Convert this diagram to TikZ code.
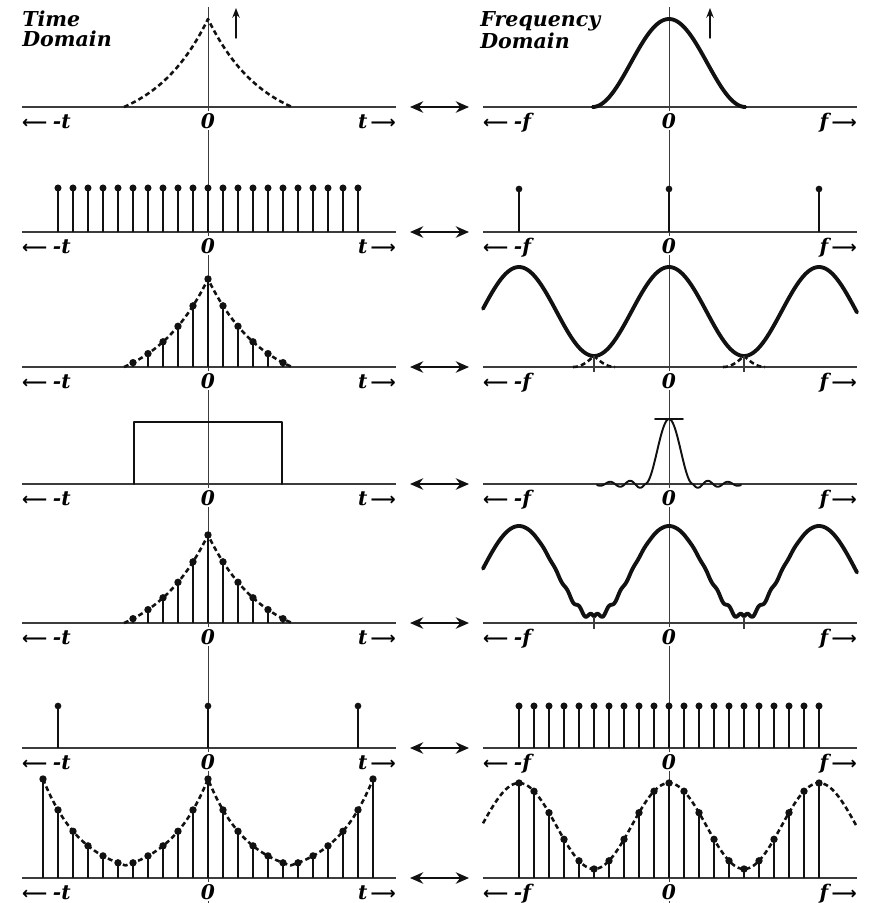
\documentclass[tikz,border=0pt]{standalone}
\usepackage{fontspec}
\setmainfont{DejaVu Serif}
\newfontfamily\arrowfont{DejaVu Sans}
\usepackage{tikz}
\usetikzlibrary{arrows.meta}
\definecolor{ink}{HTML}{111111}
\definecolor{axisgray}{HTML}{3C3C3C}
\newcommand{\larr}{{\arrowfont\upshape\bfseries\fontsize{10}{12}\selectfont ⟵}}
\newcommand{\rarr}{{\arrowfont\upshape\bfseries\fontsize{10}{12}\selectfont ⟶}}
\tikzset{
    every picture/.style={line cap=round,line join=round},
    axisline/.style={draw=axisgray,line width=1.1pt,line cap=butt},
    zeroline/.style={draw=axisgray,line width=0.55pt,line cap=butt},
    stemline/.style={draw=ink,line width=1.1pt,line cap=butt},
    dashcurve/.style={draw=ink,line width=1.45pt,line cap=butt,dash pattern=on 2.8pt off 1.8pt},
    boldcurve/.style={draw=ink,line width=2.2pt},
    thincurve/.style={draw=ink,line width=1.1pt},
    tickline/.style={draw=axisgray,line width=0.6pt,line cap=butt},
    axislabel/.style={font=\fontsize{11.5}{13}\selectfont\bfseries\itshape,
      fill=white,inner xsep=1pt,inner ysep=1.2pt},
    headlabel/.style={font=\fontsize{11.7}{11.4}\selectfont\bfseries\itshape,
      align=left,inner sep=0pt,anchor=north west},
    pairarrow/.style={{Stealth[length=7.5pt,width=6.5pt]}-{Stealth[length=7.5pt,width=6.5pt]},
      draw=ink,line width=1.5pt},
    uparrow/.style={-{Stealth[length=5.5pt,width=4.2pt]},draw=ink,line width=0.85pt}
}

\begin{document}
\begin{tikzpicture}[x=0.02cm,y=-0.02cm,
  declare function={
    expo(\q)=88*(exp(-abs(\q)/55)-0.2172)/0.7828;
    bell(\q)=44*(1+cos(2.353*\q));
    wave(\q)=11+44.5*(1+cos(2.4*\q));
    arch(\q)=50*(1+cos(1.875*(75+abs(\q))));
    sincf(\q)=ifthenelse(abs(\q)<24,65*cos(3.75*\q)*cos(3.75*\q),
      -4*sin(18*(abs(\q)-24))*(1-(abs(\q)-24)/80));
    ripd(\q)=abs(abs(\q)-75);
    ripple(\q)=6+45.5*(1+cos(2.4*\q))+3*sin(30*ripd(\q))*exp(-(ripd(\q)/32)^2);
    comb(\q)=99*exp(-min(abs(\q),165-abs(\q))/40);
    samp(\q)=9+43*(1+cos(2.4*\q));
  }]
  \useasboundingbox (0,0) rectangle (871,903);

  \draw[zeroline] (208,7) -- (208,903);
  \draw[zeroline] (669,7) -- (669,903);

  \foreach \r/\y in {1/107,2/232,3/367,4/484,5/623,6/748,7/878} {
    \node[axislabel,anchor=base west] (tm\r) at (20,\y+21) {\larr\;-t};
    \node[axislabel,anchor=base] (tz\r) at (208,\y+21) {0};
    \node[axislabel,anchor=base east] (tp\r) at (398,\y+21) {t\,\rarr};
    \node[axislabel,anchor=base west] (fm\r) at (481,\y+21) {\larr\;-f};
    \node[axislabel,anchor=base] (fz\r) at (669,\y+21) {0};
    \node[axislabel,anchor=base east] (fp\r) at (859,\y+21) {f\,\rarr};
    \draw[axisline] (22,\y) -- (396,\y);
    \draw[axisline] (483,\y) -- (857,\y);
    \coordinate (ta\r) at (410,\y);
    \coordinate (fa\r) at (469,\y);
    \draw[pairarrow] (ta\r) -- (fa\r);
  }

  \node[headlabel] (timehead) at (22,11) {Time\\Domain};
  \node[headlabel] (freqhead) at (480,11) {Frequency\\Domain};
  \coordinate (tupb) at (236,38);
  \coordinate (tupt) at (236,8);
  \coordinate (fupb) at (710,38);
  \coordinate (fupt) at (710,8);
  \draw[uparrow] (tupb) -- (tupt);
  \draw[uparrow] (fupb) -- (fupt);

  \draw[dashcurve] plot[domain=-84:84,samples=121] ({208+\x},{107-expo(\x)});
  \draw[boldcurve] plot[domain=-76.5:76.5,samples=101] ({669+\x},{107-bell(\x)});

  \foreach \k in {-10,...,10} {
    \draw[stemline] ({208+15*(\k)},232) -- ({208+15*(\k)},188);
    \fill[ink] ({208+15*(\k)},188) circle[radius=2pt];
  }
  \foreach \k in {-1,0,1} {
    \draw[stemline] ({669+150*(\k)},232) -- ({669+150*(\k)},189);
    \fill[ink] ({669+150*(\k)},189) circle[radius=1.9pt];
  }

  \draw[dashcurve] plot[domain=-84:84,samples=121] ({208+\x},{367-expo(\x)});
  \foreach \k in {-5,...,5} {
    \draw[stemline] ({208+15*(\k)},367) -- ({208+15*(\k)},{367-expo(15*(\k))});
    \fill[ink] ({208+15*(\k)},{367-expo(15*(\k))}) circle[radius=2.1pt];
  }
  \draw[boldcurve] plot[domain=-186:188,samples=200] ({669+\x},{367-wave(\x)});
  \foreach \c in {594,744} {
    \draw[dashcurve] plot[domain=-21:21,samples=31] ({\c+\x},{367-arch(\x)});
    \draw[tickline] (\c,356) -- (\c,372);
  }

  \draw[thincurve] (134,484) -- (134,422) -- (282,422) -- (282,484);
  \draw[thincurve] plot[domain=-72:72,samples=161] ({669+\x},{484-sincf(\x)});
  \draw[thincurve] (655,419) -- (683,419);

  \draw[dashcurve] plot[domain=-84:84,samples=121] ({208+\x},{623-expo(\x)});
  \foreach \k in {-5,...,5} {
    \draw[stemline] ({208+15*(\k)},623) -- ({208+15*(\k)},{623-expo(15*(\k))});
    \fill[ink] ({208+15*(\k)},{623-expo(15*(\k))}) circle[radius=2.1pt];
  }
  \draw[boldcurve] plot[domain=-186:188,samples=300] ({669+\x},{623-ripple(\x)});
  \foreach \c in {594,744} {
    \draw[tickline] (\c,617) -- (\c,629);
  }

  \foreach \k in {-1,0,1} {
    \draw[stemline] ({208+150*(\k)},748) -- ({208+150*(\k)},706);
    \fill[ink] ({208+150*(\k)},706) circle[radius=1.9pt];
  }
  \foreach \k in {-10,...,10} {
    \draw[stemline] ({669+15*(\k)},748) -- ({669+15*(\k)},706);
    \fill[ink] ({669+15*(\k)},706) circle[radius=2pt];
  }

  \draw[dashcurve] plot[domain=-165:165,samples=221] ({208+\x},{878-comb(\x)});
  \foreach \k in {-11,...,11} {
    \draw[stemline] ({208+15*(\k)},878) -- ({208+15*(\k)},{878-comb(15*(\k))});
    \fill[ink] ({208+15*(\k)},{878-comb(15*(\k))}) circle[radius=2.1pt];
  }
  \draw[dashcurve] plot[domain=-186:188,samples=200] ({669+\x},{878-samp(\x)});
  \foreach \k in {-10,...,10} {
    \draw[stemline] ({669+15*(\k)},878) -- ({669+15*(\k)},{878-samp(15*(\k))});
    \fill[ink] ({669+15*(\k)},{878-samp(15*(\k))}) circle[radius=2.1pt];
  }
\end{tikzpicture}
\end{document}
